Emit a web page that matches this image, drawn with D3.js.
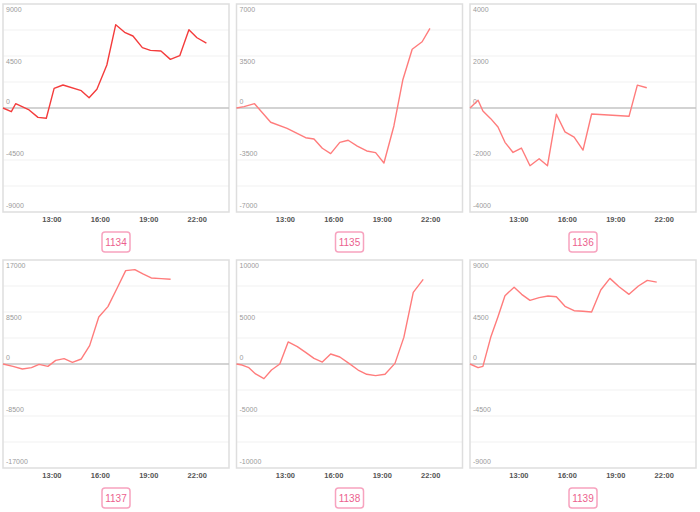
<!DOCTYPE html>
<html><head><meta charset="utf-8">
<script src="https://cdn.jsdelivr.net/npm/d3@7"></script>
<style>body{margin:0;background:#fff}svg{display:block}</style>
</head><body>
<svg id="c" width="700" height="512"></svg>
<script>
const codes = ["1134","1135","1136","1137","1138","1139"];
const yLimits = [9000,7000,4000,17000,10000,9000];
const xTickLabels = ["13:00","16:00","19:00","22:00"];

const times1134 = ["10:00","10:31","10:47","11:37","12:10","12:41","13:10","13:43","14:51","15:20","15:49","16:26","16:59","17:32","18:03","18:38","19:08","19:47","20:22","20:57","21:31","22:01","22:36"];
const values1134 = [0,-320,370,-170,-810,-890,1700,1990,1500,890,1620,3720,7210,6550,6230,5220,4990,4930,4210,4530,6780,6080,5620];

const times1135 = ["10:00","10:28","11:07","12:07","13:08","14:17","14:48","15:19","15:50","16:24","16:55","17:29","18:04","18:37","19:08","19:45","20:18","20:53","21:30","21:59"];
const values1135 = [0,90,290,-960,-1370,-2000,-2090,-2710,-3070,-2310,-2170,-2560,-2890,-3000,-3700,-1210,1880,3950,4460,5360];

const times1136 = ["10:00","10:30","10:48","11:17","11:44","12:10","12:40","13:11","13:43","14:17","14:48","15:21","15:53","16:27","17:00","17:32","19:51","20:22","20:57"];
const values1136 = [0,300,-115,-410,-730,-1320,-1710,-1540,-2220,-1950,-2220,-240,-920,-1120,-1620,-230,-320,880,780];

const times1137 = ["10:00","10:37","11:12","11:46","12:14","12:47","13:16","13:47","14:18","14:51","15:22","15:56","16:30","17:04","17:36","18:10","18:40","19:11","19:48","20:23"];
const values1137 = [0,-380,-820,-600,-60,-380,600,870,270,820,3000,7690,9380,12380,15260,15430,14720,14060,13950,13850];

const times1138 = ["10:00","10:21","10:46","11:11","11:42","12:10","12:41","13:12","13:46","14:17","14:48","15:19","15:50","16:24","16:58","17:32","18:04","18:37","19:12","19:49","20:22","20:57","21:34"];
const values1138 = [0,-100,-350,-960,-1410,-580,0,2120,1670,1120,540,190,960,670,60,-580,-990,-1120,-990,60,2560,6890,8140];

const times1139 = ["10:00","10:30","10:48","11:17","11:44","12:10","12:44","13:12","13:43","14:17","14:50","15:21","15:53","16:27","17:00","17:32","18:06","18:40","19:14","19:51","20:26","20:59","21:34"];
const values1139 = [0,-320,-200,2310,4090,5910,6640,6030,5510,5740,5880,5820,4990,4610,4560,4500,6400,7410,6690,6030,6750,7240,7090];

const seriesTimes = [times1134,times1135,times1136,times1137,times1138,times1139];
const seriesValues = [values1134,values1135,values1136,values1137,values1138,values1139];
const lineColors = ["#f43c3c","#ff7c7c","#ff7c7c","#ff7c7c","#ff7c7c","#ff7c7c"];

const svg = d3.select("#c");
const parse = d3.timeParse("%H:%M");
const t0 = parse("10:00");
const t1 = d3.timeHour.offset(t0, 14);
const colLeft = [3, 236.5, 470];
const rowTop = [4, 260];
const W = 226, H = 208;
const font = "'Liberation Sans', Arial, sans-serif";

codes.forEach((code, i) => {
  const left = colLeft[i % 3], top = rowTop[Math.floor(i / 3)];
  const L = yLimits[i];
  const x = d3.scaleTime().domain([t0, t1]).range([left, left + W]);
  const y = d3.scaleLinear().domain([-L, L]).range([top + H, top]);
  const g = svg.append("g");

  // grid
  const gridVals = d3.range(-3, 4).map(k => k * L / 4).filter(v => v !== 0);
  g.selectAll("line.grid").data(gridVals).join("line")
    .attr("x1", left).attr("x2", left + W)
    .attr("y1", d => y(d)).attr("y2", d => y(d))
    .attr("stroke", "#f1f1f1").attr("stroke-width", 1);

  // border
  g.append("rect").attr("x", left).attr("y", top).attr("width", W).attr("height", H)
    .attr("fill", "none").attr("stroke", "#dedede").attr("stroke-width", 1.5);

  // zero line
  g.append("line").attr("x1", left).attr("x2", left + W)
    .attr("y1", y(0)).attr("y2", y(0))
    .attr("stroke", "#c4c4c4").attr("stroke-width", 1.5);

  // y labels
  const labVals = [L, L / 2, 0, -L / 2, -L];
  g.selectAll("text.yl").data(labVals).join("text")
    .attr("x", left + 3)
    .attr("y", d => d > 0 ? y(d) + 6 : y(d) - 6)
    .attr("dy", "0.35em")
    .attr("font-family", font).attr("font-size", 7)
    .attr("fill", "#9a9a9a")
    .text(d => String(d));

  // x axis labels
  const xa = d3.axisBottom(x).tickValues(xTickLabels.map(s => parse(s)))
    .tickFormat(d3.timeFormat("%H:%M")).tickSize(0).tickPadding(0);
  const ax = g.append("g").attr("transform", `translate(0,${top + H + 5})`).call(xa);
  ax.select(".domain").remove();
  ax.selectAll("text").attr("font-family", font).attr("font-size", 7.5)
    .attr("font-weight", "bold").attr("fill", "#555");

  // line
  const data = seriesTimes[i].map((t, k) => ({ t: parse(t), v: seriesValues[i][k] }));
  g.append("path").datum(data)
    .attr("d", d3.line().x(d => x(d.t)).y(d => y(d.v)))
    .attr("fill", "none").attr("stroke", lineColors[i]).attr("stroke-width", 1.4)
    .attr("stroke-linejoin", "round");

  // code box
  const cx = left + W / 2, by = top + H + 20;
  g.append("rect").attr("x", cx - 14).attr("y", by).attr("width", 28).attr("height", 20)
    .attr("rx", 3).attr("fill", "#fff").attr("stroke", "#f7a3bf").attr("stroke-width", 1.5);
  g.append("text").attr("x", cx).attr("y", by + 10).attr("dy", "0.35em")
    .attr("text-anchor", "middle").attr("font-family", font).attr("font-size", 10)
    .attr("fill", "#ec5f8e").text(code);
});
</script>
</body></html>
